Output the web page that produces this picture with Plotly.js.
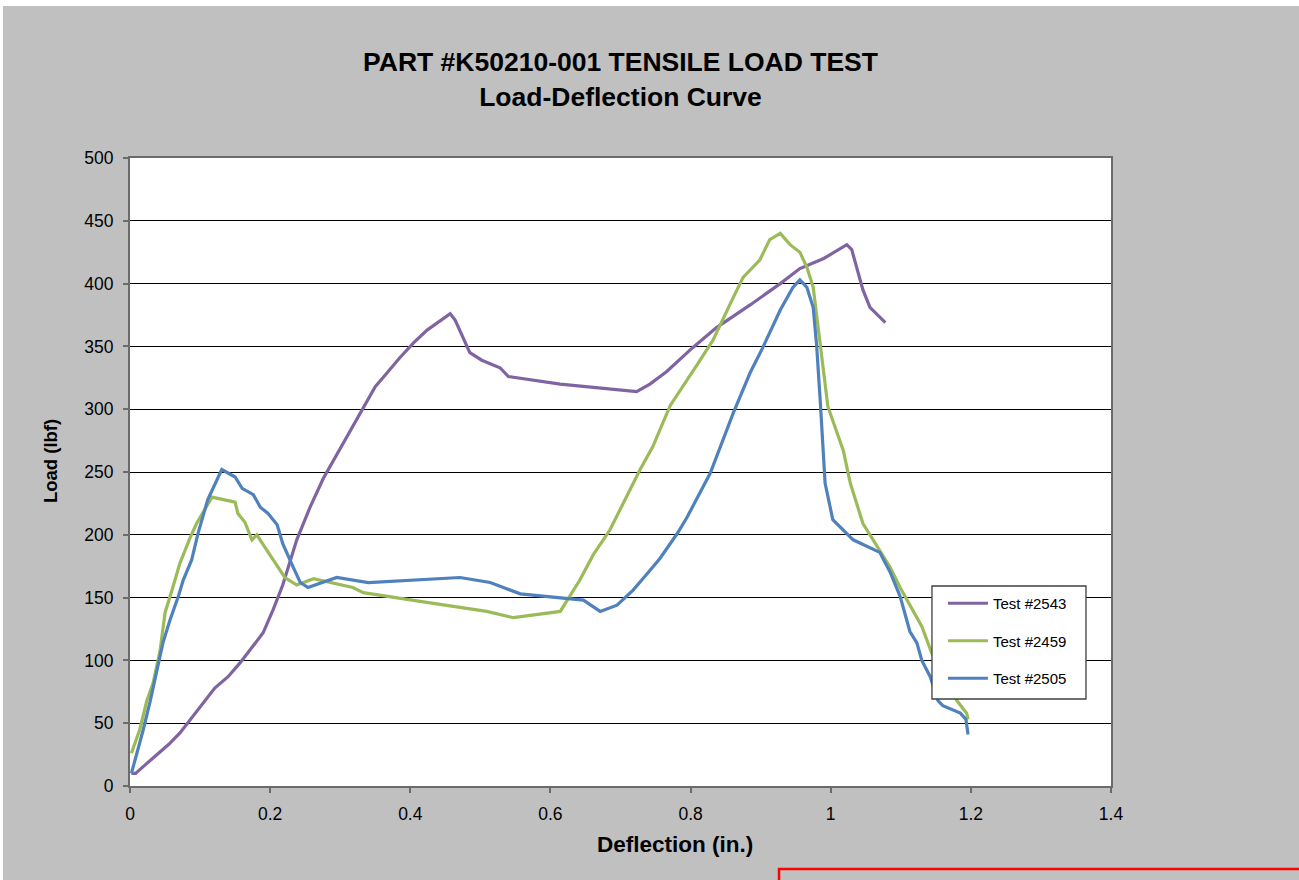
<!DOCTYPE html>
<html>
<head>
<meta charset="utf-8">
<script src="https://cdn.plot.ly/plotly-3.0.1.min.js"></script>
<style>html,body{margin:0;padding:0;background:#fff;}#chart{width:1299px;height:880px;}</style>
</head>
<body>
<div id="chart"></div>
<script>
// Test #2543 (purple)
var x2543 = [0.002,0.008,0.02,0.036,0.055,0.071,0.09,0.105,0.121,0.14,0.157,0.175,0.19,0.204,0.218,0.238,0.257,0.276,0.29,0.314,0.333,0.35,0.367,0.385,0.405,0.424,0.457,0.464,0.485,0.502,0.528,0.54,0.614,0.723,0.742,0.766,0.803,0.837,0.885,0.928,0.956,0.99,1.023,1.03,1.046,1.056,1.078];
var y2543 = [10,10,16,24,33,42,56,67,78,87,98,111,122,140,160,196,222,245,259,283,302,318,329,341,353,363,376,371,345,339,333,326,320,314,320,330,349,365,383,400,412,420,431,427,395,381,369];

// Test #2459 (green)
var x2459 = [0.002,0.014,0.024,0.033,0.043,0.05,0.06,0.071,0.086,0.095,0.117,0.15,0.154,0.164,0.174,0.181,0.195,0.221,0.238,0.262,0.318,0.333,0.414,0.509,0.547,0.614,0.642,0.661,0.685,0.704,0.728,0.746,0.771,0.809,0.832,0.861,0.875,0.899,0.913,0.928,0.942,0.956,0.966,0.975,0.985,0.996,1.018,1.028,1.046,1.07,1.085,1.099,1.117,1.13,1.144,1.16,1.18,1.194,1.196];
var y2459 = [26,45,68,82,108,138,156,177,198,209,230,226,217,210,196,200,188,166,160,165,158,154,147,139,134,139,164,184,204,225,252,270,303,335,355,389,405,419,435,440,431,425,413,397,350,302,267,241,209,188,174,158,140,127,106,90,68,58,53];

// Test #2505 (blue)
var x2505 = [0.002,0.01,0.019,0.029,0.038,0.047,0.057,0.069,0.076,0.088,0.097,0.111,0.131,0.15,0.16,0.176,0.186,0.197,0.21,0.218,0.233,0.243,0.254,0.295,0.34,0.471,0.514,0.557,0.647,0.671,0.695,0.718,0.738,0.756,0.781,0.795,0.828,0.861,0.885,0.903,0.928,0.946,0.956,0.966,0.975,0.98,0.985,0.992,1.003,1.032,1.07,1.085,1.099,1.113,1.123,1.13,1.142,1.153,1.16,1.185,1.193,1.196];
var y2505 = [10,26,45,68,90,114,132,151,164,180,201,228,252,246,237,232,222,217,208,193,174,162,158,166,162,166,162,153,148,139,144,156,169,181,201,214,249,297,329,349,379,397,403,397,381,350,307,241,212,196,186,170,151,123,114,100,87,68,64,58,53,41];

var seriesNames = ['Test #2543','Test #2459','Test #2505'];
var seriesColors = ['#8064A2','#9BBB59','#4F81BD'];
var xTickVals = [0,0.2,0.4,0.6,0.8,1,1.2,1.4];
var xTickText = ['0','0.2','0.4','0.6','0.8','1','1.2','1.4'];
var chartTitle = 'PART #K50210-001 TENSILE LOAD TEST<br>Load-Deflection Curve';
var xTitle = 'Deflection (in.)';
var yTitle = 'Load (lbf)';

var FONT = 'Liberation Sans, Arial, sans-serif';
var xs = [x2543, x2459, x2505];
var ys = [y2543, y2459, y2505];
var traces = xs.map(function(x, i){
  return {
    type: 'scatter', mode: 'lines', x: x, y: ys[i], name: seriesNames[i],
    legendgroup: 'g' + i,
    line: {color: seriesColors[i], width: 3.2, shape: 'linear'},
    hoverinfo: 'x+y+name'
  };
});

var axisLine = '#6b6b6b';
var layout = {
  width: 1299, height: 880,
  margin: {l: 130, r: 188, t: 158, b: 94, pad: 0},
  paper_bgcolor: '#ffffff',
  plot_bgcolor: '#ffffff',
  font: {family: FONT, color: '#000000'},
  showlegend: true,
  title: {
    text: chartTitle,
    font: {family: FONT, size: 26.5, color: '#000000', weight: 'bold'},
    x: 0.5, xref: 'paper', xanchor: 'center',
    y: 0.919, yref: 'container', yanchor: 'middle'
  },
  xaxis: {
    range: [0, 1.4], tickmode: 'array', tickvals: xTickVals, ticktext: xTickText,
    showgrid: false, zeroline: false,
    showline: true, linecolor: axisLine, linewidth: 2, mirror: true,
    ticks: 'outside', ticklen: 5, tickwidth: 1.5, tickcolor: axisLine,
    ticklabelstandoff: 6,
    tickfont: {family: FONT, size: 17.5, color: '#000000'},
    automargin: false
  },
  yaxis: {
    range: [0, 500], dtick: 50, tick0: 0,
    showgrid: true, gridcolor: '#000000', gridwidth: 1, zeroline: false,
    showline: true, linecolor: axisLine, linewidth: 2, mirror: true,
    ticks: 'outside', ticklen: 5, tickwidth: 1.5, tickcolor: axisLine,
    ticklabelstandoff: 6,
    tickfont: {family: FONT, size: 17.5, color: '#000000'},
    automargin: false
  },
  annotations: [
    {text: xTitle, xref: 'paper', yref: 'paper', x: 0.5556, y: -0.0924,
     xanchor: 'center', yanchor: 'middle', showarrow: false,
     font: {family: FONT, size: 22.5, color: '#000000', weight: 'bold'}},
    {text: yTitle, xref: 'paper', yref: 'paper', x: -0.0815, y: 0.5175,
     xanchor: 'center', yanchor: 'middle', showarrow: false, textangle: -90,
     font: {family: FONT, size: 18.5, color: '#000000', weight: 'bold'}}
  ],
  legend: {
    x: 0.8287, y: 0.3169, xanchor: 'left', yanchor: 'top',
    bgcolor: 'rgba(0,0,0,0)', borderwidth: 0,
    font: {family: FONT, size: 15, color: '#000000'},
    traceorder: 'grouped', tracegroupgap: 15, itemwidth: 40
  },
  shapes: [
    {type: 'rect', xref: 'paper', yref: 'paper', x0: -0.1295, x1: 1.3, y0: -0.3, y1: 1.242,
     fillcolor: '#c0c0c0', line: {width: 0}, layer: 'below'},
    {type: 'rect', xref: 'paper', yref: 'paper', x0: 0, x1: 1, y0: 0, y1: 1,
     fillcolor: '#ffffff', line: {width: 0}, layer: 'below'},
    {type: 'rect', xref: 'paper', yref: 'paper', x0: 0.8175, x1: 0.9745, y0: 0.1385, y1: 0.3185,
     fillcolor: '#ffffff', line: {color: '#404040', width: 1.3}, layer: 'above'},
    {type: 'rect', xref: 'paper', yref: 'paper', x0: 0.6616, x1: 1.3, y0: -0.1322, y1: -0.3,
     fillcolor: 'rgba(0,0,0,0)', line: {color: '#ff0000', width: 2.5}, layer: 'above'}
  ]
};

Plotly.newPlot('chart', traces, layout, {displayModeBar: false});
</script>
</body>
</html>
